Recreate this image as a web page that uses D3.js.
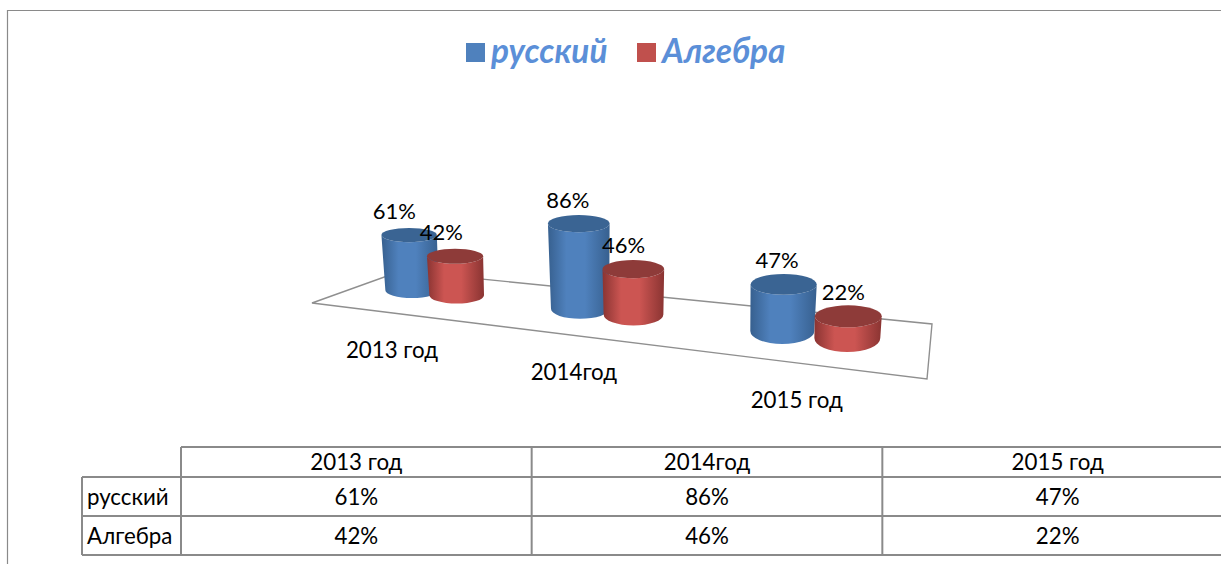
<!DOCTYPE html>
<html><head><meta charset="utf-8">
<style>html,body{margin:0;padding:0;background:#fff;overflow:hidden}svg{display:block}text{font-family:Lato,"Noto Sans",sans-serif;fill:#000}</style>
<script src="https://cdn.jsdelivr.net/npm/d3@7"></script></head><body>
<script>
const categories = ["2013 год", "2014год", "2015 год"];
const seriesNames = ["русский", "Алгебра"];
const russian = [61, 86, 47];
const algebra = [42, 46, 22];
const seriesValues = [russian, algebra];

const W = 1221, H = 564;
const svg = d3.select("body").append("svg").attr("width", W).attr("height", H);
const defs = svg.append("defs");

const palette = [
  {id:"blue", edge:"#37608f", mid:"#4f81bd", top:"#3a6493", swatch:"#4f81bd"},
  {id:"red", edge:"#8a3432", mid:"#cc5552", top:"#8e3b39", swatch:"#c0504d"}
];
palette.forEach(p => {
  const g = defs.append("linearGradient").attr("id", p.id).attr("x1",0).attr("x2",1).attr("y1",0).attr("y2",0);
  [[0,p.edge],[0.3,p.mid],[0.6,p.mid],[1,p.edge]].forEach(s => g.append("stop").attr("offset",s[0]).attr("stop-color",s[1]));
});

// frame
const frame = "#8a8a8a";
svg.append("path").attr("d", `M7.5,564V10.5H${W}`).attr("fill","none").attr("stroke",frame).attr("stroke-width",1.2);

// legend
const legendX = [466, 637];
seriesNames.forEach((n,i) => {
  svg.append("rect").attr("x",legendX[i]).attr("y",43).attr("width",19).attr("height",19).attr("fill",palette[i].swatch);
  svg.append("text").attr("x",legendX[i]+25).attr("y",63).text(n)
    .style("font-size","33.4px").style("font-weight",700).style("font-style","italic").style("fill","#5b8fd8");
});

// floor: projective map of the unit square
const FL=[312,303], FR=[927,379], BR=[932,324], BL=[401,271];
function makeFloor(p0,p1,p2,p3){
  const sx=p0[0]-p1[0]+p2[0]-p3[0], sy=p0[1]-p1[1]+p2[1]-p3[1];
  const dx1=p1[0]-p2[0], dx2=p3[0]-p2[0], dy1=p1[1]-p2[1], dy2=p3[1]-p2[1];
  const den=dx1*dy2-dx2*dy1;
  const g=(sx*dy2-dx2*sy)/den, h=(dx1*sy-sx*dy1)/den;
  const a=p1[0]-p0[0]+g*p1[0], b=p3[0]-p0[0]+h*p3[0], c=p0[0];
  const d=p1[1]-p0[1]+g*p1[1], e=p3[1]-p0[1]+h*p3[1], f=p0[1];
  return (u,v)=>{const w=g*u+h*v+1;return [(a*u+b*v+c)/w,(d*u+e*v+f)/w];};
}
const floor = makeFloor(FL,FR,BR,BL);
svg.append("path").attr("d",d3.line()([FL,FR,BR,BL])+"Z").attr("fill","#fff").attr("stroke","#8f8f8f").attr("stroke-width",1.4);

const catU = d3.scalePoint().domain(categories).range([0,0.996]).padding(0.47);
const labelU = d3.scalePoint().domain(categories).range([0,1]).padding(0.5);
const serU = d3.scalePoint().domain(seriesNames).range([-0.047,0.049]);
const heightScale = d3.scaleLinear().domain([0,100]).range([0,100]);
const depthFactor = d3.scaleLinear().domain([400,580]).range([0.9,0.99]).clamp(true);
const ryBase = d3.scaleLinear().domain([400,850]).range([7.5,14]);
const ryTop = d3.scaleLinear().domain([400,850]).range([7,11]);
const rxBase = d3.scaleLinear().domain([400,850]).range([26.5,33]);
const labelDx = d3.scaleLinear().domain([400,850]).range([-15,-5]);

const cyl = svg.append("g");
const labels = svg.append("g");
seriesNames.forEach((name,s) => {
  categories.forEach((cat,c) => {
    const [bx,by] = floor(catU(cat)+serU(name), 0.53);
    const h = heightScale(seriesValues[s][c])*depthFactor(bx);
    const tx = bx+(bx-650)*h*0.00022, ty = by-h;
    const rb = rxBase(bx), rt = rb*(1+h*0.0007);
    const g = cyl.append("g");
    g.append("path").attr("d",
      `M${tx-rt},${ty}L${bx-rb},${by}A${rb},${ryBase(bx)} 0 0 0 ${bx+rb},${by}L${tx+rt},${ty}A${rt},${ryTop(bx)} 0 0 1 ${tx-rt},${ty}Z`)
      .attr("fill",`url(#${palette[s].id})`);
    g.append("ellipse").attr("cx",tx).attr("cy",ty).attr("rx",rt).attr("ry",ryTop(bx)).attr("fill",palette[s].top);
    labels.append("text").attr("x",tx+labelDx(bx)).attr("y",ty-16).attr("text-anchor","middle")
      .style("font-size","22px").text(seriesValues[s][c]+"%");
  });
});

// category labels below the floor's front edge
categories.forEach(cat => {
  const [fx,fy] = floor(labelU(cat),0);
  svg.append("text").attr("x",fx+1).attr("y",fy+45).attr("text-anchor","middle").style("font-size","22.3px").text(cat);
});

// data table
const colX = d3.scaleBand().domain(categories).range([181,1233]);
const rowEdges = [447,477,516,555];
const grid = svg.append("g").attr("stroke","#8a8a8a").attr("stroke-width",2).attr("fill","none");
[0,1,2,3].forEach(i => grid.append("line").attr("x1",i===0?181:82).attr("x2",W).attr("y1",rowEdges[i]).attr("y2",rowEdges[i]));
grid.append("line").attr("x1",82).attr("x2",82).attr("y1",477).attr("y2",555);
categories.forEach(cat => grid.append("line").attr("x1",colX(cat)).attr("x2",colX(cat)).attr("y1",447).attr("y2",555));
const tbl = svg.append("g").style("font-size","22.3px");
categories.forEach((cat,c) => {
  const cx = colX(cat)+colX.bandwidth()/2;
  tbl.append("text").attr("x",cx).attr("y",470).attr("text-anchor","middle").text(cat);
  seriesNames.forEach((n,s) => tbl.append("text").attr("x",cx).attr("y",rowEdges[s+1]+28).attr("text-anchor","middle").text(seriesValues[s][c]+"%"));
});
seriesNames.forEach((n,s) => tbl.append("text").attr("x",87).attr("y",rowEdges[s+1]+28).text(n));
</script></body></html>
